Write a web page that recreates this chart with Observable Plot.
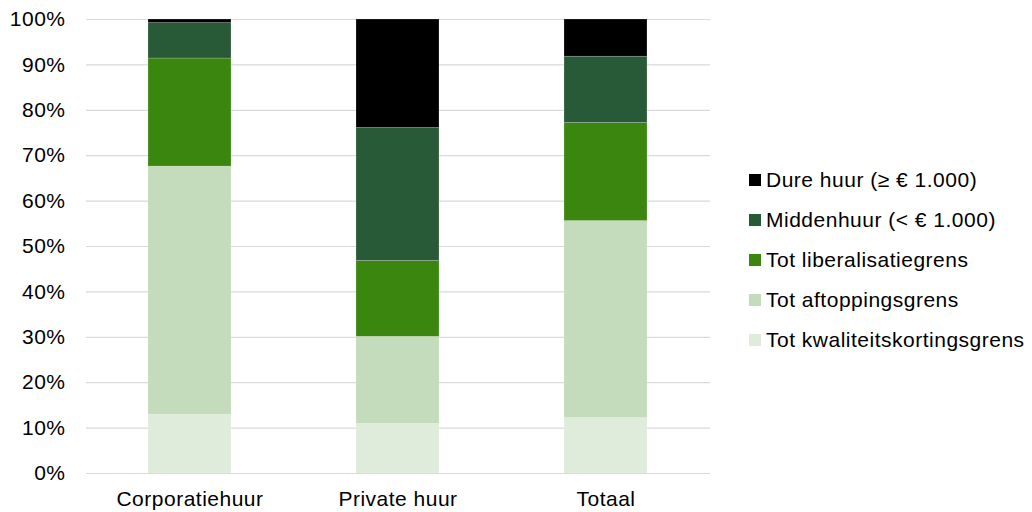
<!DOCTYPE html>
<html>
<head>
<meta charset="utf-8">
<script src="https://cdn.jsdelivr.net/npm/d3@7"></script>
<script src="https://cdn.jsdelivr.net/npm/@observablehq/plot@0.6"></script>
<style>
  body { margin: 0; background: #fff; font-family: Arial, "Liberation Sans", sans-serif; }
  #wrap { position: relative; width: 1032px; height: 512px; }
  #legend { position: absolute; left: 749px; top: 160px; font-size: 21px; letter-spacing: 0.5px; color: #000; }
  .row { height: 40px; display: flex; align-items: center; white-space: nowrap; }
  .sw { width: 12px; height: 12px; margin-right: 5px; flex: none; }
</style>
</head>
<body>
<div id="wrap"><div id="legend"></div></div>
<script>
// Huurwoningen naar huurklasse, aandeel per segment (%)
const categories = ["Corporatiehuur", "Private huur", "Totaal"];
const series = [
  "Tot kwaliteitskortingsgrens",
  "Tot aftoppingsgrens",
  "Tot liberalisatiegrens",
  "Middenhuur (< € 1.000)",
  "Dure huur (≥ € 1.000)"
];
const kwaliteitskorting = [12.9, 10.9, 12.2];
const aftopping = [54.7, 19.2, 43.4];
const liberalisatie = [23.8, 16.7, 21.6];
const middenhuur = [7.8, 29.3, 14.6];
const dureHuur = [0.8, 23.9, 8.2];
const yTicks = [0, 10, 20, 30, 40, 50, 60, 70, 80, 90, 100];
const colors = ["#e0ecdb", "#c4dcbb", "#3b860f", "#285a38", "#000000"];

const seriesValues = [kwaliteitskorting, aftopping, liberalisatie, middenhuur, dureHuur];
const rows = [];
series.forEach((s, i) => {
  categories.forEach((c, j) => rows.push({ categorie: c, klasse: s, aandeel: seriesValues[i][j] }));
});

const font = { fontFamily: "Arial, 'Liberation Sans', sans-serif", fontSize: "21px", letterSpacing: "0.5px", color: "#000", background: "transparent" };

const chart = Plot.plot({
  width: 1032,
  height: 512,
  marginLeft: 86,
  marginRight: 322,
  marginTop: 19,
  marginBottom: 39,
  style: font,
  x: { domain: categories, paddingInner: 0.6, paddingOuter: 0.3, label: null },
  y: { domain: [0, 100], label: null },
  color: { domain: series, range: colors },
  marks: [
    Plot.ruleY(yTicks, { stroke: "#d9d9d9", strokeWidth: 1.2 }),
    Plot.barY(rows, {
      x: "categorie", y: "aandeel", fill: "klasse",
      stroke: "#ffffff", strokeOpacity: 0.25, strokeWidth: 0.75
    }),
    Plot.axisY({ ticks: yTicks, tickSize: 0, tickPadding: 21, tickFormat: d => d + "%", label: null }),
    Plot.axisX({ tickSize: 0, tickPadding: 18, label: null })
  ]
});
document.getElementById("wrap").prepend(chart);

// Legenda: bovenste segment eerst
const legend = d3.select("#legend");
series.slice().reverse().forEach(s => {
  const row = legend.append("div").attr("class", "row");
  row.append("div").attr("class", "sw").style("background", colors[series.indexOf(s)]);
  row.append("span").text(s);
});
</script>
</body>
</html>
